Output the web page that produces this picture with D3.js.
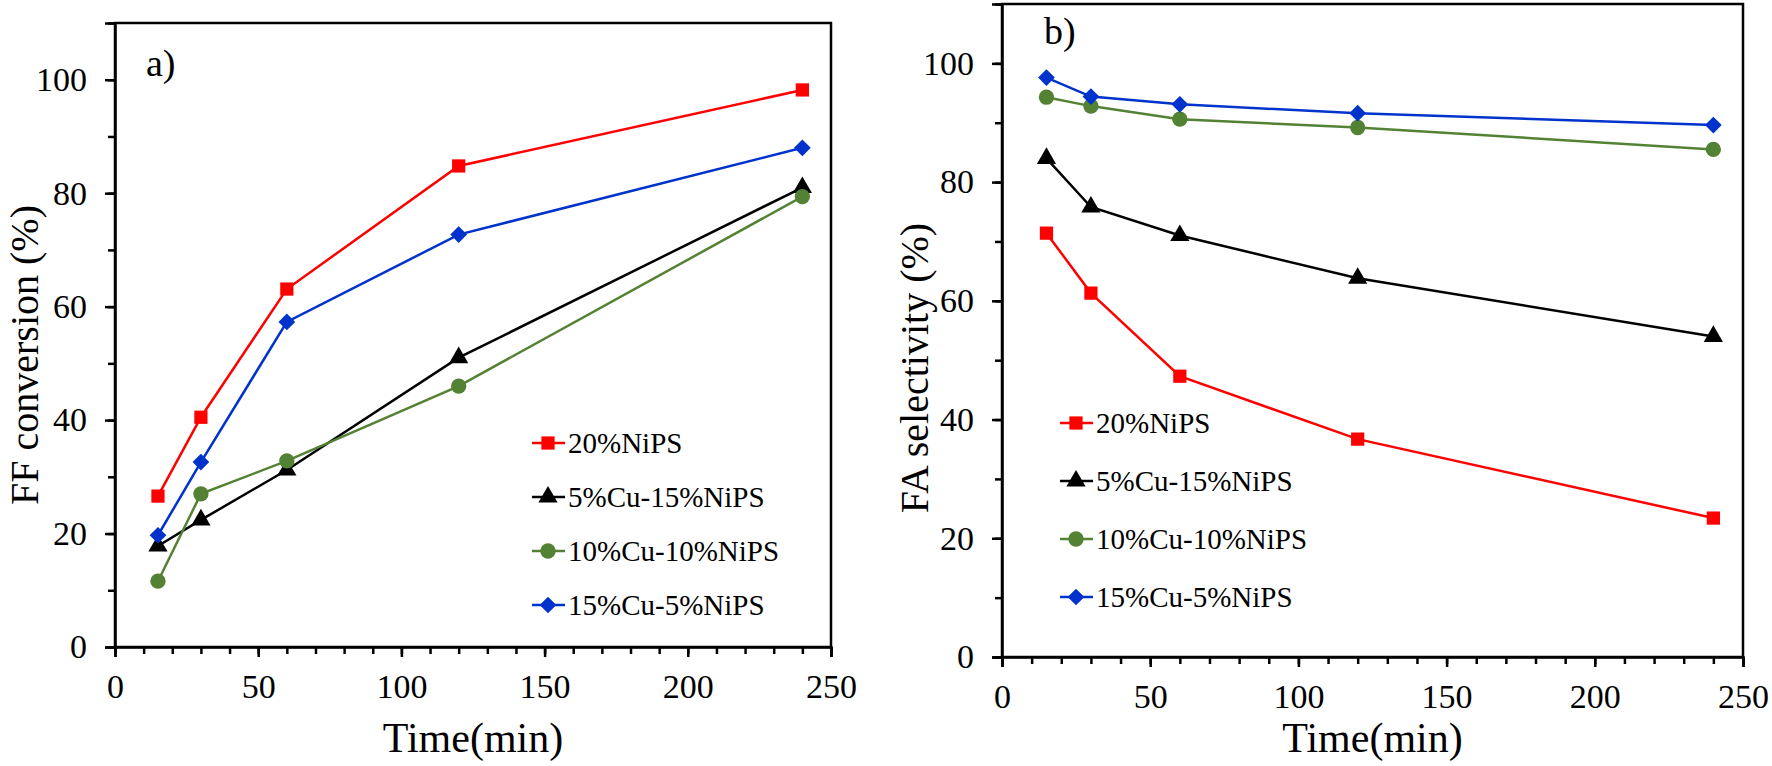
<!DOCTYPE html>
<head>
  <script src="https://d3js.org/d3.v7.min.js"></script>
  <style>
    body { margin: 0; background: #fff; overflow: hidden; }
    text { font-family: "Liberation Serif", "Times New Roman", serif; fill: #000; }
  </style>
</head>
<body>
  <svg width="1772" height="766"></svg>
  <script>
    // values
    const times = [15, 30, 60, 120, 240];
    const seriesNames = ['20%NiPS', '5%Cu-15%NiPS', '10%Cu-10%NiPS', '15%Cu-5%NiPS'];
    const seriesColors = ['#ff0000', '#000000', '#548235', '#0033cc'];
    const seriesSymbols = ['square', 'triangle', 'circle', 'diamond'];

    const conv20Ni = [26.6, 40.5, 63.1, 84.8, 98.2];
    const conv5Cu = [17.8, 22.4, 31.2, 51.0, 81.0];
    const conv10Cu = [11.6, 27.0, 32.8, 46.0, 79.4];
    const conv15Cu = [19.7, 32.6, 57.3, 72.7, 88.0];

    const sel20Ni = [71.4, 61.3, 47.3, 36.7, 23.4];
    const sel5Cu = [84.0, 75.8, 71.0, 63.8, 54.0];
    const sel10Cu = [94.3, 92.8, 90.6, 89.2, 85.5];
    const sel15Cu = [97.6, 94.4, 93.1, 91.6, 89.6];

    const xTicks = [0, 50, 100, 150, 200, 250];
    const xMinor = d3.range(0, 251, 10);
    const yTicks = [0, 20, 40, 60, 80, 100];
    const yMinor = d3.range(0, 111, 10);

    const svg = d3.select('svg');

    const symbolFor = name => {
      if (name === 'square') return d3.symbol(d3.symbolSquare, 175)();
      if (name === 'triangle') return d3.symbol(d3.symbolTriangle, 160)();
      if (name === 'circle') return d3.symbol(d3.symbolCircle, 185)();
      return d3.symbol(d3.symbolSquare, 140)();
    };

    const drawPanel = cfg => {
      const x = d3.scaleLinear().domain([0, 250]).range([cfg.left, cfg.right]);
      const y = d3.scaleLinear().domain([0, 110]).range([cfg.bottom, cfg.top]);
      const g = svg.append('g');

      // frame
      g.append('rect')
        .attr('x', cfg.left).attr('y', cfg.top)
        .attr('width', cfg.right - cfg.left).attr('height', cfg.bottom - cfg.top)
        .attr('fill', 'none').attr('stroke', '#000').attr('stroke-width', 2.5);

      // minor ticks
      g.append('g').attr('transform', `translate(0,${cfg.bottom})`)
        .call(d3.axisBottom(x).tickValues(xMinor).tickSize(7).tickFormat(''))
        .call(a => a.select('.domain').remove())
        .selectAll('line').attr('stroke-width', 2.5);
      g.append('g').attr('transform', `translate(${cfg.left},0)`)
        .call(d3.axisLeft(y).tickValues(yMinor).tickSize(7).tickFormat(''))
        .call(a => a.select('.domain').remove())
        .selectAll('line').attr('stroke-width', 2.5);

      // major ticks + labels
      const xa = g.append('g').attr('transform', `translate(0,${cfg.bottom})`)
        .call(d3.axisBottom(x).tickValues(xTicks).tickSize(10).tickPadding(17));
      xa.select('.domain').attr('stroke-width', 2.5);
      xa.selectAll('line').attr('stroke-width', 2.5);
      xa.selectAll('text').style('font-size', '34px').style('font-family', 'Liberation Serif');

      const ya = g.append('g').attr('transform', `translate(${cfg.left},0)`)
        .call(d3.axisLeft(y).tickValues(yTicks).tickSize(10).tickPadding(18));
      ya.select('.domain').attr('stroke-width', 2.5);
      ya.selectAll('line').attr('stroke-width', 2.5);
      ya.selectAll('text').style('font-size', '34px').style('font-family', 'Liberation Serif');

      // titles
      g.append('text')
        .attr('x', (cfg.left + cfg.right) / 2).attr('y', 752)
        .attr('text-anchor', 'middle').style('font-size', '42px')
        .text('Time(min)');
      g.append('text')
        .attr('transform', `translate(${cfg.titleX},${cfg.titleY}) rotate(-90)`)
        .attr('text-anchor', 'middle').style('font-size', '40px')
        .text(cfg.yTitle);
      g.append('text')
        .attr('x', cfg.labelX).attr('y', cfg.labelY)
        .style('font-size', '38px')
        .text(cfg.label);

      // series
      const line = d3.line().x((d, i) => x(times[i])).y(d => y(d));
      cfg.series.forEach((vals, s) => {
        g.append('path').datum(vals)
          .attr('d', line)
          .attr('fill', 'none')
          .attr('stroke', seriesColors[s])
          .attr('stroke-width', 2.5);
        g.selectAll(null).data(vals).enter().append('path')
          .attr('d', symbolFor(seriesSymbols[s]))
          .attr('transform', (d, i) => `translate(${x(times[i])},${y(d)})` +
            (seriesSymbols[s] === 'diamond' ? ' rotate(45)' : ''))
          .attr('fill', seriesColors[s]);
      });

      // legend
      const lg = g.append('g').attr('transform', `translate(${cfg.legendX},${cfg.legendY})`);
      seriesNames.forEach((name, s) => {
        const row = lg.append('g').attr('transform', `translate(0,${s * cfg.legendStep})`);
        row.append('line').attr('x1', 0).attr('x2', 33)
          .attr('stroke', seriesColors[s]).attr('stroke-width', 2.5);
        row.append('path').attr('d', symbolFor(seriesSymbols[s]))
          .attr('transform', 'translate(16,0)' + (seriesSymbols[s] === 'diamond' ? ' rotate(45)' : ''))
          .attr('fill', seriesColors[s]);
        row.append('text').attr('x', 36).attr('y', 10)
          .style('font-size', '29px').text(name);
      });
    };

    drawPanel({
      left: 115, right: 831, top: 23, bottom: 647,
      yTitle: 'FF conversion (%)', titleX: 38, titleY: 355,
      label: 'a)', labelX: 146, labelY: 76,
      legendX: 532, legendY: 443, legendStep: 54,
      series: [conv20Ni, conv5Cu, conv10Cu, conv15Cu]
    });

    drawPanel({
      left: 1002, right: 1743, top: 4, bottom: 657,
      yTitle: 'FA selectivity (%)', titleX: 928, titleY: 368,
      label: 'b)', labelX: 1044, labelY: 44,
      legendX: 1060, legendY: 423, legendStep: 58,
      series: [sel20Ni, sel5Cu, sel10Cu, sel15Cu]
    });
  </script>
</body>
